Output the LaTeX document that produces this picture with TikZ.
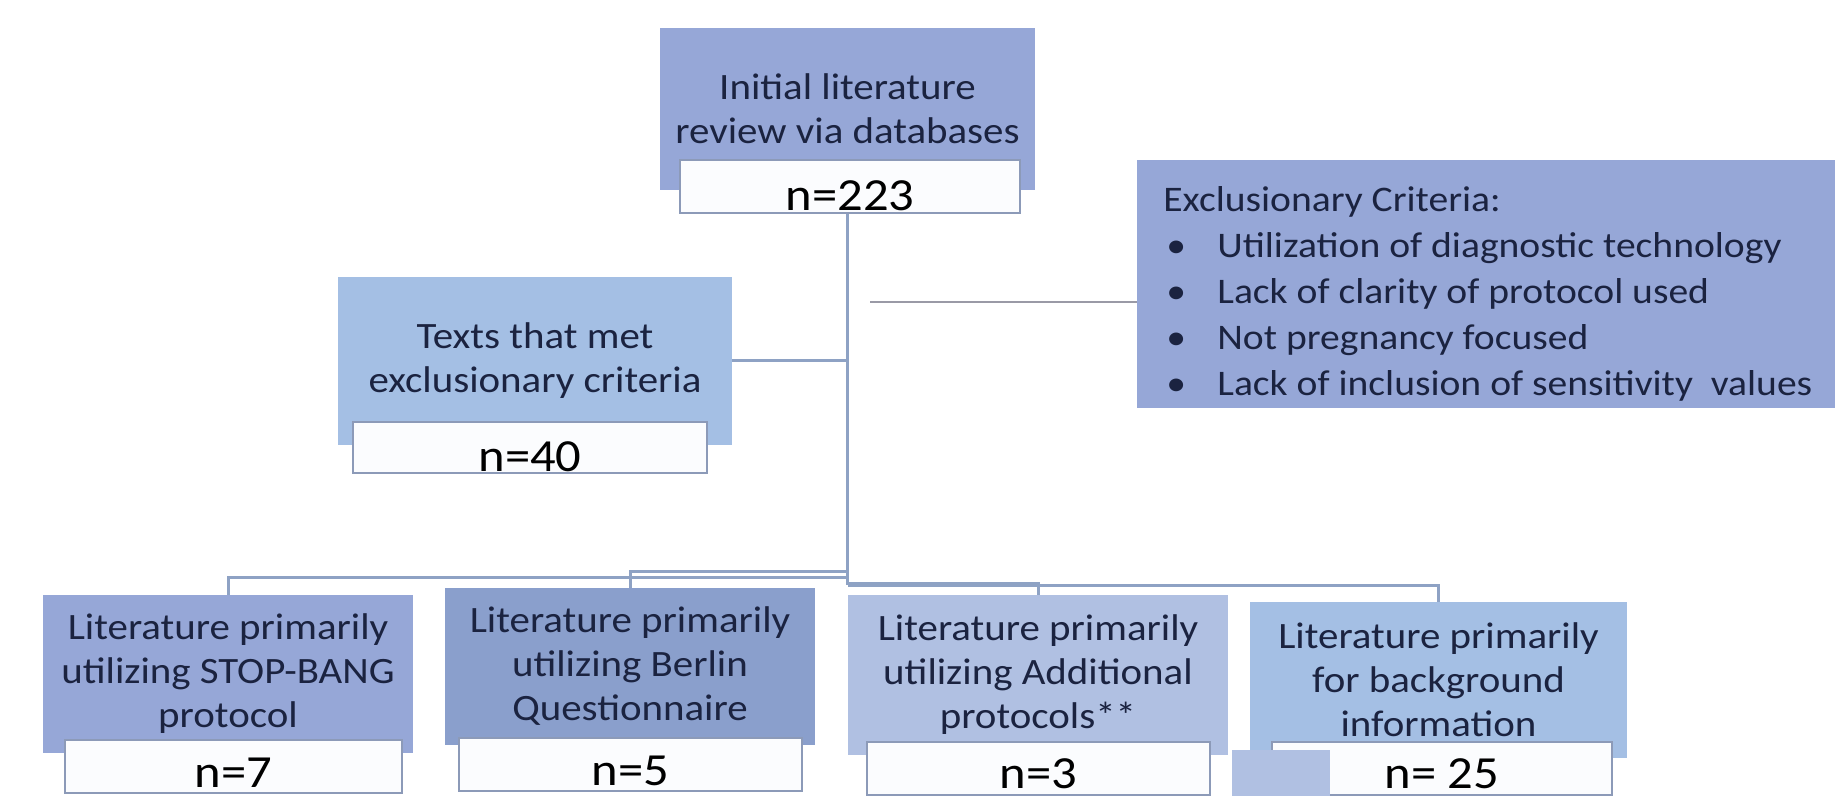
\documentclass[tikz,border=0pt]{standalone}
\usepackage{fontspec}
\setmainfont{Carlito}[FakeStretch=1.1]

\definecolor{boxblue}{RGB}{150,167,215}
\definecolor{boxpale}{RGB}{164,191,228}
\definecolor{boxdark}{RGB}{138,159,204}
\definecolor{boxlight}{RGB}{176,192,226}
\definecolor{countline}{RGB}{140,154,184}
\definecolor{countwhite}{RGB}{251,252,254}
\definecolor{linkblue}{RGB}{142,162,196}
\definecolor{linkgrey}{RGB}{154,154,166}
\definecolor{textnavy}{RGB}{27,35,64}

\newcommand{\crititem}{\makebox[27pt][l]{\hspace{1.5pt}\textbullet}}

\begin{document}
\begin{tikzpicture}[x=0.5pt,y=-0.5pt]
   \tikzstyle{every node}=[font=\fontsize{18.6}{22}\selectfont, text=textnavy]
   \tikzstyle{topic}=[rectangle, align=center, inner sep=0pt]
   \tikzstyle{count}=[rectangle, draw=countline, line width=1pt, fill=countwhite, text=black, font=\fontsize{23}{25}\selectfont, inner sep=0pt, text height=24pt, text depth=0pt, minimum height=26.5pt]
   \tikzstyle{link}=[draw=linkblue, line width=1.5pt]
   \tikzstyle{thinlink}=[draw=linkgrey, line width=1pt]

   \useasboundingbox (0,0) rectangle (1835,796);

% connectors first, boxes on top
\coordinate (hub) at (847.5,585);
\coordinate (exclstub) at (870,302);

\node[topic, fill=boxblue, minimum width=187.5pt, minimum height=81pt] (init) at (847.5,109) {Initial literature\\review via databases};
\node[topic, fill=boxpale, minimum width=197pt, minimum height=84pt] (texts) at (535,361) {Texts that met\\exclusionary criteria};

\draw[link] (init.south) -- (hub);
\draw[link] (texts.east) -- (texts.east -| hub);
\draw[thinlink] (exclstub) -- (exclstub -| 1137,0);

\node[count, minimum width=170pt] (n223) at (850,186.5) {n=223};
\node[count, minimum width=177pt, minimum height=25.5pt] (n40) at (530,447.5) {n=40};

\node[anchor=north west, fill=boxblue, minimum width=349pt, minimum height=122pt, align=left, inner xsep=13pt, font=\fontsize{18}{23}\selectfont] (excl) at (1137,160)
    {\rule{0pt}{22pt}Exclusionary Criteria:\\
     \crititem Utilization of diagnostic technology\\
     \crititem Lack of clarity of protocol used\\
     \crititem Not pregnancy focused\\
     \crititem Lack of inclusion of sensitivity\ \ values};

% the four branches
\node[topic, fill=boxblue, minimum width=185pt, minimum height=79pt] (stop) at (228,674) {Literature primarily\\utilizing STOP-BANG\\protocol};
\node[topic, fill=boxdark, minimum width=185pt, minimum height=78.5pt] (berlin) at (630,666.5) {Literature primarily\\utilizing Berlin\\Questionnaire};
\node[topic, fill=boxlight, minimum width=190pt, minimum height=80pt] (addl) at (1038,675) {Literature primarily\\utilizing Additional\\protocols**};
\node[topic, fill=boxpale, minimum width=188.5pt, minimum height=78pt] (backg) at (1438.5,680) {Literature primarily\\for background\\information};

\draw[link] ([yshift=4pt]hub) -| (stop.north);
\draw[link] ([yshift=7pt]hub) -| (berlin.north);
\draw[link] ([yshift=1pt]hub) -| (addl.north);
\draw[link] (hub) -| (backg.north);

\node[count, minimum width=168.5pt, text height=21pt] (n7) at (233.5,766.5) {n=7};
\node[count, minimum width=171.5pt, text height=21pt] (n5) at (630.5,764.5) {n=5};
\node[count, minimum width=171.5pt, text height=20pt] (n3) at (1038.5,768) {n=3};
\node[count, minimum width=170pt, text height=20pt] (n25) at (1442,768) {n= 25};
\node[rectangle, fill=boxlight, inner sep=0pt, minimum width=49pt, minimum height=23pt] (patch) at (1281,773) {};

\end{tikzpicture}
\end{document}
